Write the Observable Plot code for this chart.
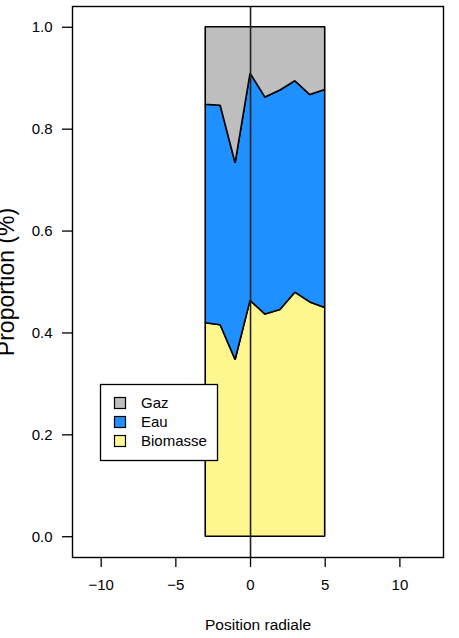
<!DOCTYPE html>
<html>
<head>
<meta charset="utf-8">
<script src="https://cdn.jsdelivr.net/npm/d3@7"></script>
<script src="https://cdn.jsdelivr.net/npm/@observablehq/plot@0.6"></script>
<style>
  html, body { margin: 0; padding: 0; background: #fff; }
  #chart { position: relative; width: 459px; height: 638px; }
</style>
</head>
<body>
<div id="chart"></div>
<script>
// Radial positions and component proportions
const positions = [-3, -2, -1, 0, 1, 2, 3, 4, 5];
const biomasse  = [0.419, 0.415, 0.347, 0.463, 0.436, 0.445, 0.479, 0.460, 0.449];
const eau       = [0.429, 0.431, 0.386, 0.446, 0.426, 0.431, 0.415, 0.407, 0.428];
const gaz       = [0.152, 0.154, 0.267, 0.091, 0.138, 0.124, 0.106, 0.133, 0.123];

const layers = ["Gaz", "Eau", "Biomasse"];
const layerColors = ["#BEBEBE", "#1E90FF", "#FFF68F"];
const xTicks = [-10, -5, 0, 5, 10];
const yTicks = [0, 0.2, 0.4, 0.6, 0.8, 1.0];

const series = {Biomasse: biomasse, Eau: eau, Gaz: gaz};
const rows = [];
for (const layer of ["Biomasse", "Eau", "Gaz"]) {
  positions.forEach((p, i) => rows.push({pos: p, layer, value: series[layer][i]}));
}

const font = "'Liberation Sans', Arial, Helvetica, sans-serif";

const plot = Plot.plot({
  width: 459,
  height: 638,
  marginLeft: 72,
  marginRight: 16,
  marginTop: 6,
  marginBottom: 81,
  style: {fontFamily: font, fontSize: "15px", background: "#fff", color: "#000"},
  x: {domain: [-11.92, 12.92]},
  y: {domain: [-0.0408, 1.0408]},
  color: {domain: layers, range: layerColors},
  marks: [
    Plot.areaY(rows, {
      x: "pos", y: "value", z: "layer", fill: "layer",
      order: ["Biomasse", "Eau", "Gaz"],
      stroke: "#000", strokeWidth: 1.6, strokeLinejoin: "miter"
    }),
    Plot.ruleX([0], {stroke: "#222", strokeWidth: 1.6}),
    Plot.frame({stroke: "#000", strokeWidth: 1.4}),
    Plot.axisX({ticks: xTicks, tickSize: 10, tickPadding: 12, label: null, fontSize: 15, strokeWidth: 1.3}),
    Plot.axisY({ticks: yTicks, tickSize: 10, tickPadding: 10, tickFormat: d3.format(".1f"), label: null, fontSize: 15, strokeWidth: 1.3}),
    Plot.text(["Proportion (%)"], {frameAnchor: "left", textAnchor: "middle", lineAnchor: "middle", rotate: -90, dx: -66, fontSize: 23}),
    Plot.text(["Position radiale"], {frameAnchor: "bottom", textAnchor: "middle", lineAnchor: "middle", dy: 68, fontSize: 15.5})
  ]
});

// Legend box inside the plot area
const svg = d3.select(plot);
const lg = svg.append("g").attr("font-family", font).attr("font-size", 15).attr("text-anchor", "start");
lg.append("rect").attr("x", 100.5).attr("y", 384.5).attr("width", 117).attr("height", 76)
  .attr("fill", "#fff").attr("stroke", "#000").attr("stroke-width", 1.3);
layers.forEach((name, i) => {
  const cy = 403 + i * 19;
  lg.append("rect").attr("x", 114.5).attr("y", cy - 5.5).attr("width", 11).attr("height", 11)
    .attr("fill", layerColors[i]).attr("stroke", "#000").attr("stroke-width", 1.2);
  lg.append("text").attr("x", 141).attr("y", cy).attr("dy", "0.35em").attr("text-anchor", "start").text(name);
});

document.getElementById("chart").appendChild(plot);
</script>
</body>
</html>
